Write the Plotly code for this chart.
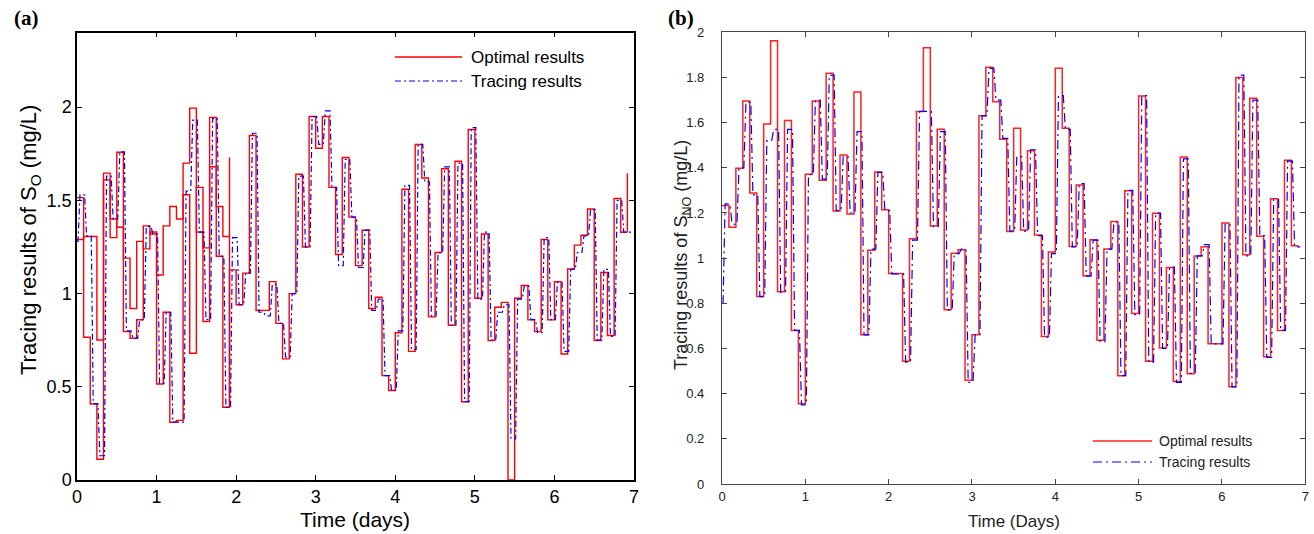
import plotly.graph_objects as go

# ---------------- data ----------------
STEP_H = 2.0                      # set-point interval, hours
N_INT = 83                        # number of intervals plotted
x_ticks = [0, 1, 2, 3, 4, 5, 6, 7]

# Panel (a): S_O
opt_a = [1.515, 0.766, 0.408, 0.111, 1.646, 1.30, 1.758, 0.796, 0.76, 0.86,
         1.363, 1.32, 0.515, 0.90, 0.31, 0.32, 1.70, 1.995, 1.33, 0.85,
         1.945, 1.20, 0.39, 1.127, 0.94, 1.11, 1.848, 0.909, 0.91, 1.064,
         0.84, 0.65, 1.0, 1.64, 1.25, 1.95, 1.78, 1.95, 1.57, 1.21,
         1.73, 1.41, 1.15, 1.34, 0.92, 0.98, 0.56, 0.48, 0.79, 1.56,
         0.69, 1.80, 1.62, 0.875, 1.22, 1.67, 0.83, 1.71, 0.42, 1.88,
         0.975, 1.32, 0.748, 0.927, 0.953, 0.0, 0.975, 1.043, 0.859, 0.796,
         1.29, 0.859, 1.064, 0.676, 1.132, 1.26, 1.313, 1.454, 0.748, 1.113,
         0.775, 1.51, 1.329]
opt_a_second = [1.29, 1.306, 1.306, 0.751, 1.61, 1.40, 1.356, 1.19, 0.92, 1.28,
                1.24, 1.33, 1.10, 1.363, 1.467, 1.40, 1.53, 0.68, 1.57, 1.245,
                1.68, 1.467, 1.306]
spike_a_idx = [23, 83]
spike_a_lo = [0.39, 1.329]
spike_a_hi = [1.73, 1.646]
trace_a_start = 1.28
trace_a = [1.53, 1.31, 0.41, 0.13, 1.63, 1.40, 1.76, 0.80, 0.76, 0.86,
           1.36, 1.32, 0.52, 0.90, 0.31, 0.31, 1.55, 1.93, 1.33, 0.86,
           1.94, 1.20, 0.39, 1.30, 0.94, 1.11, 1.86, 0.90, 0.88, 1.05,
           0.84, 0.66, 1.0, 1.63, 1.25, 1.95, 1.80, 1.98, 1.57, 1.15,
           1.72, 1.41, 1.14, 1.34, 0.91, 0.97, 0.56, 0.48, 0.80, 1.58,
           0.70, 1.80, 1.60, 0.88, 1.22, 1.68, 0.83, 1.70, 0.42, 1.89,
           0.97, 1.33, 0.75, 0.90, 0.94, 0.22, 0.97, 1.04, 0.86, 0.79,
           1.30, 0.86, 1.06, 0.69, 1.13, 1.22, 1.31, 1.45, 0.75, 1.13,
           0.77, 1.50, 1.33]
trace_a_end_day = 6.97

# Panel (b): S_NO
opt_b = [1.233, 1.137, 1.398, 1.696, 1.288, 0.83, 1.594, 1.963, 0.851, 1.609,
         0.68, 0.355, 1.372, 1.696, 1.345, 1.819, 1.209, 1.457, 1.195, 1.736,
         0.661, 1.035, 1.381, 1.214, 0.932, 0.932, 0.543, 1.086, 1.649, 1.932,
         1.142, 1.571, 0.771, 1.022, 1.037, 0.459, 0.661, 1.631, 1.845, 1.693,
         1.527, 1.118, 1.575, 1.125, 1.476, 1.103, 0.653, 1.027, 1.841, 1.575,
         1.052, 1.324, 0.922, 1.081, 0.637, 1.041, 1.162, 0.479, 1.298, 0.755,
         1.718, 0.543, 1.199, 0.602, 0.959, 0.454, 1.448, 0.488, 1.01, 1.05,
         0.621, 0.621, 1.156, 0.431, 1.80, 1.015, 1.708, 1.097, 0.563, 1.263,
         0.68, 1.434, 1.055]
trace_b_start = 0.80
trace_b = [1.24, 1.15, 1.40, 1.69, 1.28, 0.83, 1.52, 1.57, 0.85, 1.57,
           0.68, 0.35, 1.37, 1.70, 1.35, 1.81, 1.21, 1.45, 1.20, 1.56,
           0.66, 1.04, 1.38, 1.21, 0.93, 0.93, 0.54, 1.08, 1.65, 1.65,
           1.14, 1.56, 0.77, 1.02, 1.04, 0.45, 0.66, 1.63, 1.84, 1.70,
           1.53, 1.12, 1.45, 1.12, 1.48, 1.10, 0.65, 1.02, 1.72, 1.57,
           1.05, 1.33, 0.92, 1.08, 0.63, 1.04, 1.16, 0.48, 1.30, 0.75,
           1.72, 0.54, 1.20, 0.60, 0.96, 0.45, 1.44, 0.49, 1.01, 1.06,
           0.62, 0.62, 1.15, 0.43, 1.81, 1.01, 1.70, 1.10, 0.56, 1.26,
           0.68, 1.43, 1.05]
trace_b_end_day = 6.94
TRACE_DELAY_H = (0.3, 0.9)        # response delay of the tracing controller, hours

# ---------------- helpers ----------------
day_start = [k * STEP_H / 24 for k in range(N_INT + 1)]


def stairs(vals):
    n = len(vals)
    return day_start[:n + 1], list(vals) + [vals[-1]]


def tracing(start, vals, end_day):
    d0, d1 = TRACE_DELAY_H[0] / 24, TRACE_DELAY_H[1] / 24
    xs, ys = [0.0], [start]
    prev = start
    for k, v in enumerate(vals):
        xs += [day_start[k] + d0, day_start[k] + d1]
        ys += [prev, v]
        prev = v
    xs.append(end_day)
    ys.append(prev)
    return xs, ys


RED = "#ff0000"
BLUE = "#0000ff"
DASH_A = "6px,3px,2px,3px"
DASH_B = "9px,4px,2px,4px"

fig = go.Figure()

# ---- panel (a)
xa, ya = stairs(opt_a)
fig.add_trace(go.Scatter(x=xa, y=ya, mode="lines", line=dict(color=RED, width=1.4, shape="hv"),
                         xaxis="x", yaxis="y", showlegend=False, hoverinfo="skip"))
xa2, ya2 = stairs(opt_a_second)
fig.add_trace(go.Scatter(x=xa2, y=ya2, mode="lines", line=dict(color=RED, width=1.4, shape="hv"),
                         xaxis="x", yaxis="y", showlegend=False, hoverinfo="skip"))
sx, sy = [], []
for i, lo, hi in zip(spike_a_idx, spike_a_lo, spike_a_hi):
    sx += [day_start[i], day_start[i], None]
    sy += [lo, hi, None]
fig.add_trace(go.Scatter(x=sx, y=sy, mode="lines", line=dict(color=RED, width=1.4),
                         xaxis="x", yaxis="y", showlegend=False, hoverinfo="skip"))
bx, by = tracing(trace_a_start, trace_a, trace_a_end_day)
fig.add_trace(go.Scatter(x=bx, y=by, mode="lines", line=dict(color=BLUE, width=1.2, dash=DASH_A),
                         xaxis="x", yaxis="y", showlegend=False, hoverinfo="skip"))

# ---- panel (b)
xb, yb = stairs(opt_b)
fig.add_trace(go.Scatter(x=xb, y=yb, mode="lines", line=dict(color="#ff2020", width=1.5, shape="hv"),
                         xaxis="x2", yaxis="y2", showlegend=False, hoverinfo="skip"))
bx2, by2 = tracing(trace_b_start, trace_b, trace_b_end_day)
fig.add_trace(go.Scatter(x=bx2, y=by2, mode="lines", line=dict(color=BLUE, width=1.2, dash=DASH_B),
                         xaxis="x2", yaxis="y2", showlegend=False, hoverinfo="skip"))

W, H = 1314, 534


def px(x):
    return x / W


def py(y):
    return 1 - y / H


FA = "Liberation Sans, Arial, sans-serif"

common = dict(showgrid=False, zeroline=False, showline=True, ticks="inside",
              mirror="ticks", automargin=False, fixedrange=True)

fig.update_layout(
    width=W, height=H, margin=dict(l=0, r=0, t=0, b=0),
    paper_bgcolor="white", plot_bgcolor="white", showlegend=False,
    xaxis=dict(domain=[px(77), px(634)], range=[0, 7], tickvals=x_ticks,
               linecolor="black", linewidth=1.5, tickcolor="black", ticklen=5,
               tickfont=dict(family=FA, size=18, color="black"), anchor="y", **common),
    yaxis=dict(domain=[py(480), py(32.6)], range=[0, 2.4], tickvals=[0, 0.5, 1, 1.5, 2],
               ticktext=["0", "0.5", "1", "1.5", "2"],
               linecolor="black", linewidth=1.5, tickcolor="black", ticklen=5,
               tickfont=dict(family=FA, size=18, color="black"), anchor="x", **common),
    xaxis2=dict(domain=[px(722), px(1305.3)], range=[0, 7], tickvals=x_ticks,
                linecolor="#444", linewidth=1.3, tickcolor="#444", ticklen=5,
                tickfont=dict(family=FA, size=13, color="#222"), anchor="y2", **common),
    yaxis2=dict(domain=[py(484), py(32.3)], range=[0, 2],
                tickvals=[0, 0.2, 0.4, 0.6, 0.8, 1, 1.2, 1.4, 1.6, 1.8, 2],
                ticktext=["0", "0.2", "0.4", "0.6", "0.8", "1", "1.2", "1.4", "1.6", "1.8", "2"],
                linecolor="#444", linewidth=1.3, tickcolor="#444", ticklen=5,
                ticklabelstandoff=14,
                tickfont=dict(family=FA, size=13, color="#222"), anchor="x2", **common),
)

ann = []
# panel labels
ann.append(dict(text="<b>(a)</b>", x=px(12), y=py(18), xanchor="left", yanchor="middle",
                font=dict(family="Liberation Serif, Times New Roman, serif", size=21, color="black")))
ann.append(dict(text="<b>(b)</b>", x=px(666), y=py(18), xanchor="left", yanchor="middle",
                font=dict(family="Liberation Serif, Times New Roman, serif", size=21, color="black")))
# axis titles
ann.append(dict(text="Time (days)", x=px(355), y=py(519), xanchor="center", yanchor="middle",
                font=dict(family=FA, size=21, color="black")))
ann.append(dict(text="Tracing results of S<sub>O</sub> (mg/L)", x=px(30), y=py(240),
                xanchor="center", yanchor="middle", textangle=-90,
                font=dict(family=FA, size=22, color="black")))
ann.append(dict(text="Time (Days)", x=px(1014), y=py(521), xanchor="center", yanchor="middle",
                font=dict(family=FA, size=17, color="#222")))
ann.append(dict(text="Tracing results of S<sub>NO</sub> (mg/L)", x=px(683), y=py(255),
                xanchor="center", yanchor="middle", textangle=-90,
                font=dict(family=FA, size=18, color="#222")))
# legends
ann.append(dict(text="Optimal results", x=px(469), y=py(57), xanchor="left", yanchor="middle",
                font=dict(family=FA, size=17, color="black")))
ann.append(dict(text="Tracing results", x=px(469), y=py(81), xanchor="left", yanchor="middle",
                font=dict(family=FA, size=17, color="black")))
ann.append(dict(text="Optimal results", x=px(1157), y=py(441), xanchor="left", yanchor="middle",
                font=dict(family=FA, size=14, color="#222")))
ann.append(dict(text="Tracing results", x=px(1157), y=py(462), xanchor="left", yanchor="middle",
                font=dict(family=FA, size=14, color="#222")))
for a in ann:
    a.update(xref="paper", yref="paper", showarrow=False)
fig.update_layout(annotations=ann)

shapes = [
    dict(type="line", xref="paper", yref="paper", x0=px(395), x1=px(462), y0=py(57), y1=py(57),
         line=dict(color=RED, width=1.4)),
    dict(type="line", xref="paper", yref="paper", x0=px(395), x1=px(462), y0=py(81), y1=py(81),
         line=dict(color=BLUE, width=1.2, dash=DASH_A)),
    dict(type="line", xref="paper", yref="paper", x0=px(1093), x1=px(1152), y0=py(441), y1=py(441),
         line=dict(color="#ff2020", width=1.5)),
    dict(type="line", xref="paper", yref="paper", x0=px(1093), x1=px(1152), y0=py(462), y1=py(462),
         line=dict(color=BLUE, width=1.2, dash=DASH_B)),
]
fig.update_layout(shapes=shapes)

fig.write_html("out.html")
